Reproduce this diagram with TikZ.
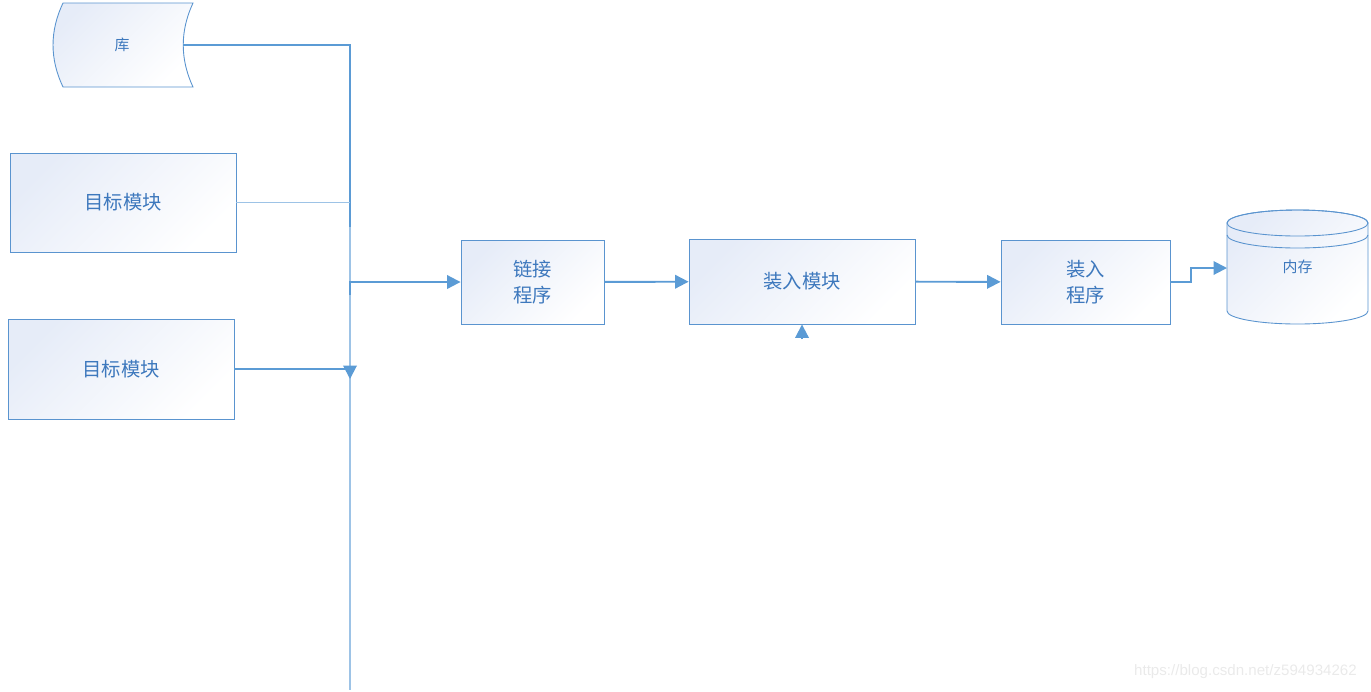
\documentclass[tikz,border=0pt]{standalone}
\usepackage{fontspec}
\setmainfont{Noto Sans CJK SC}
\newfontfamily\wmfont{Liberation Sans}
\usepackage{xcolor}
\definecolor{cMain}{HTML}{5B9BD5}
\definecolor{cEdge}{HTML}{5A94CF}
\definecolor{cText}{HTML}{3D78BD}
\definecolor{cLight}{HTML}{9DC3E6}
\definecolor{cFill}{HTML}{E6ECF8}
\definecolor{cMark}{HTML}{EAEAEA}
\usepackage{tikz}
\usetikzlibrary{positioning,arrows.meta,calc}
\tikzset{
  node-box/.style={draw=cEdge,line width=0.5pt,top color=cFill,bottom color=white,
    shading angle=45,align=center,text=cText,
    font=\fontsize{11}{14.7}\selectfont,inner sep=0pt},
  node-label/.style={text=cText,font=\fontsize{8.5}{10}\selectfont},
  shape-fill/.style={draw=cEdge,line width=0.5pt,top color=cFill,bottom color=white,
    shading angle=45},
  % 粗线 / 细线 / 箭头
  line-main/.style={draw=cMain,line width=1.1pt},
  line-thin/.style={draw=cLight,line width=0.6pt},
  arrow/.style={-{Triangle[length=2.7mm,width=2.7mm]},line width=1.1pt,draw=cMain},
}

\begin{document}
\begin{tikzpicture}[x=0.02cm,y=-0.02cm]
  \useasboundingbox (0,0) rectangle (1371,691);
  % 库
  \path[shape-fill] (63,3) -- (193,3) .. controls (180,31) and (180,59) .. (193,87)
    -- (63,87) .. controls (49.7,59) and (49.7,31) .. (63,3) -- cycle;
  \node[node-label] (lib) at (122,45) {库};
  \coordinate (libout) at (183,45);
  % 目标模块
  \node[node-box,minimum width=4.52cm,minimum height=1.98cm] (tgt1) at (123,202.5) {目标模块};
  \node[node-box,minimum width=4.52cm,minimum height=2cm] (tgt2) at (121,369) {目标模块};
  \node[node-box,minimum width=2.86cm,minimum height=1.68cm] (link) at (532.5,282) {链接\\程序};
  \node[node-box,minimum width=4.52cm,minimum height=1.7cm] (load) at (802,281.5) {装入模块};
  \node[node-box,minimum width=3.38cm,minimum height=1.68cm] (loader) at (1085.5,282) {装入\\程序};
  % 内存
  \path[shape-fill] (1227,223) -- (1227,311)
    arc[start angle=180,end angle=360,x radius=1.41cm,y radius=0.26cm]
    -- (1368,223) arc[start angle=0,end angle=180,x radius=1.41cm,y radius=0.26cm] -- cycle;
  \draw[draw=cEdge,line width=0.5pt] (1297.5,223) ellipse[x radius=1.41cm,y radius=0.26cm];
  \draw[draw=cEdge,line width=0.5pt] (1227,235)
    arc[start angle=180,end angle=360,x radius=1.41cm,y radius=0.26cm];
  \node[node-label] (mem) at (1297.5,267) {内存};
  \coordinate (memin) at (1227,268);
  % 总线
  \coordinate (busTop) at (350,227);
  \coordinate (busEnd) at (350,690);
  \coordinate (busTap) at (350,295);
  \coordinate (busArr) at (350,379);
  \coordinate (ldin) at (802,339);
  \draw[line-thin] (busTop) -- (busEnd);
  \draw[line-main] (libout) -| (busTop);
  \draw[line-thin] (tgt1.east) -- (tgt1.east -| busTop);
  \draw[arrow] (tgt2.east) -| (busArr);
  \draw[arrow] (busTap) |- (link.west);
  \draw[arrow] (link) -- (load);
  \draw[arrow] (ldin) -- (load.south);
  \draw[arrow] (load) -- (loader);
  \draw[arrow] (loader.east) -- ++(21,0) |- (memin);
  \node[anchor=east,text=cMark,font=\wmfont\fontsize{8.6}{10}\selectfont] (wm) at (1363,672)
    {https://blog.csdn.net/z594934262};
\end{tikzpicture}
\end{document}
